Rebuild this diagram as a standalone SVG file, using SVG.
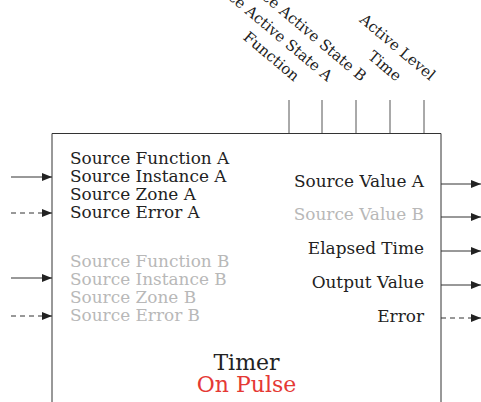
<svg xmlns="http://www.w3.org/2000/svg" width="481" height="402" viewBox="0 0 481 402">
<style>
text{font-family:"DejaVu Serif","Liberation Serif",serif;}
.lbl{font-size:16.9px;fill:#222;}
.dim{fill:#b8b8b8;}
.rt{text-anchor:end;}
.top{font-size:15px;fill:#222;text-anchor:end;}
.title{font-size:22px;text-anchor:middle;fill:#222;}
.red{fill:#e53935;}
.box{fill:none;stroke:#333;stroke-width:1;}
.tick{stroke:#555;stroke-width:1;}
.c{stroke:#333;stroke-width:1;fill:none;}
.d{stroke-dasharray:5 4;}
</style>
<defs>
<marker id="ah" viewBox="0 0 10 8" refX="10" refY="4" markerWidth="10" markerHeight="8" markerUnits="userSpaceOnUse" orient="auto">
<path d="M0,0 L10,4 L0,8 Z" fill="#222"/>
</marker>
</defs>
<g id="timer">
<path class="box" d="M52,420 L52,133.5 L441,133.5 L441,420"/>
<text class="lbl" x="70" y="164">Source Function A</text>
<text class="lbl" x="70" y="182">Source Instance A</text>
<text class="lbl" x="70" y="200">Source Zone A</text>
<text class="lbl" x="70" y="218">Source Error A</text>
<text class="lbl dim" x="70" y="267">Source Function B</text>
<text class="lbl dim" x="70" y="285">Source Instance B</text>
<text class="lbl dim" x="70" y="303">Source Zone B</text>
<text class="lbl dim" x="70" y="321">Source Error B</text>
<text class="lbl rt" x="424" y="187">Source Value A</text>
<text class="lbl dim rt" x="424" y="220">Source Value B</text>
<text class="lbl rt" x="424" y="254">Elapsed Time</text>
<text class="lbl rt" x="424" y="288">Output Value</text>
<text class="lbl rt" x="424" y="322">Error</text>
<text class="title" x="246.5" y="370">Timer</text>
<text class="title red" x="246.5" y="392">On Pulse</text>
</g>
<g id="top-inputs">
<line class="tick" x1="289" y1="100" x2="289" y2="133"/>
<line class="tick" x1="322" y1="100" x2="322" y2="133"/>
<line class="tick" x1="356" y1="100" x2="356" y2="133"/>
<line class="tick" x1="390" y1="100" x2="390" y2="133"/>
<line class="tick" x1="424" y1="100" x2="424" y2="133"/>
<text class="top" transform="translate(294,82) rotate(40)">Function</text>
<text class="top" transform="translate(327,82) rotate(40)">Source Active State A</text>
<text class="top dim" transform="translate(361,82) rotate(40)">Source Active State B</text>
<text class="top" transform="translate(396,82) rotate(40)">Time</text>
<text class="top" transform="translate(430,81) rotate(40)">Active Level</text>
</g>
<g id="connectors">
<line class="c" x1="11" y1="177" x2="52" y2="177" marker-end="url(#ah)"/>
<line class="c d" x1="11" y1="213" x2="52" y2="213" marker-end="url(#ah)"/>
<line class="c" x1="11" y1="278" x2="52" y2="278" marker-end="url(#ah)"/>
<line class="c d" x1="11" y1="316" x2="52" y2="316" marker-end="url(#ah)"/>
<line class="c" x1="441" y1="184" x2="481" y2="184" marker-end="url(#ah)"/>
<line class="c" x1="441" y1="217" x2="481" y2="217" marker-end="url(#ah)"/>
<line class="c" x1="441" y1="251" x2="481" y2="251" marker-end="url(#ah)"/>
<line class="c" x1="441" y1="285" x2="481" y2="285" marker-end="url(#ah)"/>
<line class="c d" x1="441" y1="318" x2="481" y2="318" marker-end="url(#ah)"/>
</g>
</svg>
